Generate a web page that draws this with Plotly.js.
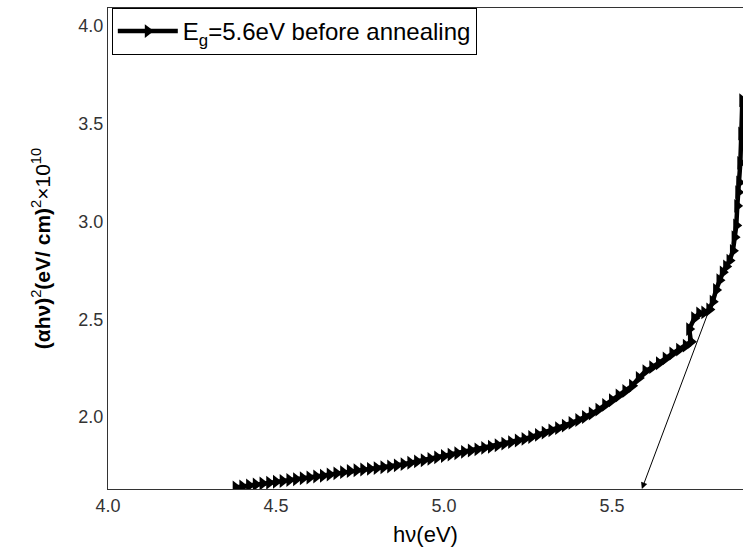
<!DOCTYPE html>
<html>
<head>
<meta charset="utf-8">
<script src="https://cdn.plot.ly/plotly-3.0.1.min.js"></script>
<style>html,body{margin:0;padding:0;background:#fff;}#chart{width:743px;height:549px;}</style>
</head>
<body>
<div id="chart"></div>
<script>
// photon energy hν (eV)
const hv = [4.38,4.40,4.42,4.44,4.46,4.48,4.50,4.52,4.54,4.56,4.58,4.60,4.62,4.64,4.66,4.68,4.70,4.72,4.74,4.76,4.78,4.80,4.82,4.84,4.86,4.88,4.90,4.92,4.94,4.96,4.98,5.00,5.02,5.04,5.06,5.08,5.10,5.12,5.14,5.16,5.18,5.20,5.22,5.24,5.26,5.28,5.30,5.32,5.34,5.36,5.38,5.40,5.42,5.44,5.46,5.48,5.50,5.52,5.54,5.56,5.58,5.60,5.62,5.64,5.66,5.68,5.70,5.72,5.735,5.73,5.745,5.76,5.775,5.79,5.80,5.81,5.82,5.83,5.84,5.85,5.86,5.865,5.87,5.873,5.876,5.879,5.882,5.885,5.888];
// (αhν)^2 ×10^10
const ahv2 = [1.640,1.645,1.650,1.655,1.660,1.664,1.669,1.673,1.678,1.682,1.687,1.691,1.696,1.700,1.706,1.712,1.718,1.724,1.728,1.732,1.735,1.739,1.743,1.747,1.753,1.759,1.766,1.773,1.779,1.786,1.794,1.801,1.808,1.815,1.822,1.829,1.835,1.842,1.848,1.856,1.864,1.872,1.880,1.888,1.898,1.909,1.920,1.932,1.943,1.956,1.970,1.985,2.000,2.018,2.038,2.062,2.086,2.110,2.133,2.160,2.200,2.235,2.255,2.275,2.300,2.325,2.345,2.365,2.385,2.45,2.505,2.53,2.535,2.55,2.59,2.65,2.70,2.74,2.77,2.80,2.85,2.92,2.98,3.08,3.15,3.20,3.30,3.45,3.62];
// tangent (extrapolation) line: [start on curve, end at x-axis intercept Eg]
const tangentX = [5.789, 5.589];
const tangentY = [2.547, 1.632];
const xTicks = [4.0, 4.5, 5.0, 5.5];
const yTicks = [2.0, 2.5, 3.0, 3.5, 4.0];
const seriesName = 'E<sub>g</sub>=5.6eV before annealing';

const trace = {
  x: hv, y: ahv2, type: 'scatter', mode: 'lines+markers', name: seriesName,
  line: {color: '#000', width: 4.5},
  marker: {symbol: 'triangle-right', size: 12, color: '#000'}
};

const layout = {
  width: 743, height: 549,
  margin: {l: 108, r: 0, t: 8, b: 60},
  paper_bgcolor: '#fff', plot_bgcolor: '#fff',
  font: {family: 'Liberation Sans, Arial, sans-serif', color: '#000'},
  showlegend: true,
  legend: {x: 0.006, y: 1, xanchor: 'left', yanchor: 'top', bgcolor: '#fff',
           bordercolor: '#000', borderwidth: 1, font: {size: 24, color: '#000'},
           itemwidth: 60, tracegroupgap: 0},
  xaxis: {
    range: [4.0, 5.89], tickvals: xTicks, ticktext: xTicks.map(v => v.toFixed(1)),
    showgrid: false, zeroline: false, showline: true, linecolor: '#333', linewidth: 1,
    mirror: true, ticks: '', tickfont: {size: 18, color: '#333'},
    title: {text: 'hν(eV)', font: {size: 22, color: '#000'}, standoff: 12}
  },
  yaxis: {
    range: [1.632, 4.092], tickvals: yTicks, ticktext: yTicks.map(v => v.toFixed(1)),
    showgrid: false, zeroline: false, showline: true, linecolor: '#333', linewidth: 1,
    ticks: '', tickfont: {size: 18, color: '#333'},
    title: {text: '<b>(αhν)</b><sup>2</sup><b>(eV/ cm)</b><sup>2</sup>×10<sup>10</sup>', font: {size: 21, color: '#000'}, standoff: 22}
  },
  annotations: [{
    x: tangentX[1], y: tangentY[1], ax: tangentX[0], ay: tangentY[0],
    xref: 'x', yref: 'y', axref: 'x', ayref: 'y',
    showarrow: true, arrowhead: 2, arrowsize: 1.3, arrowwidth: 1, arrowcolor: '#000', text: ''
  }]
};

Plotly.newPlot('chart', [trace], layout, {displayModeBar: false, staticPlot: true});
</script>
</body>
</html>
